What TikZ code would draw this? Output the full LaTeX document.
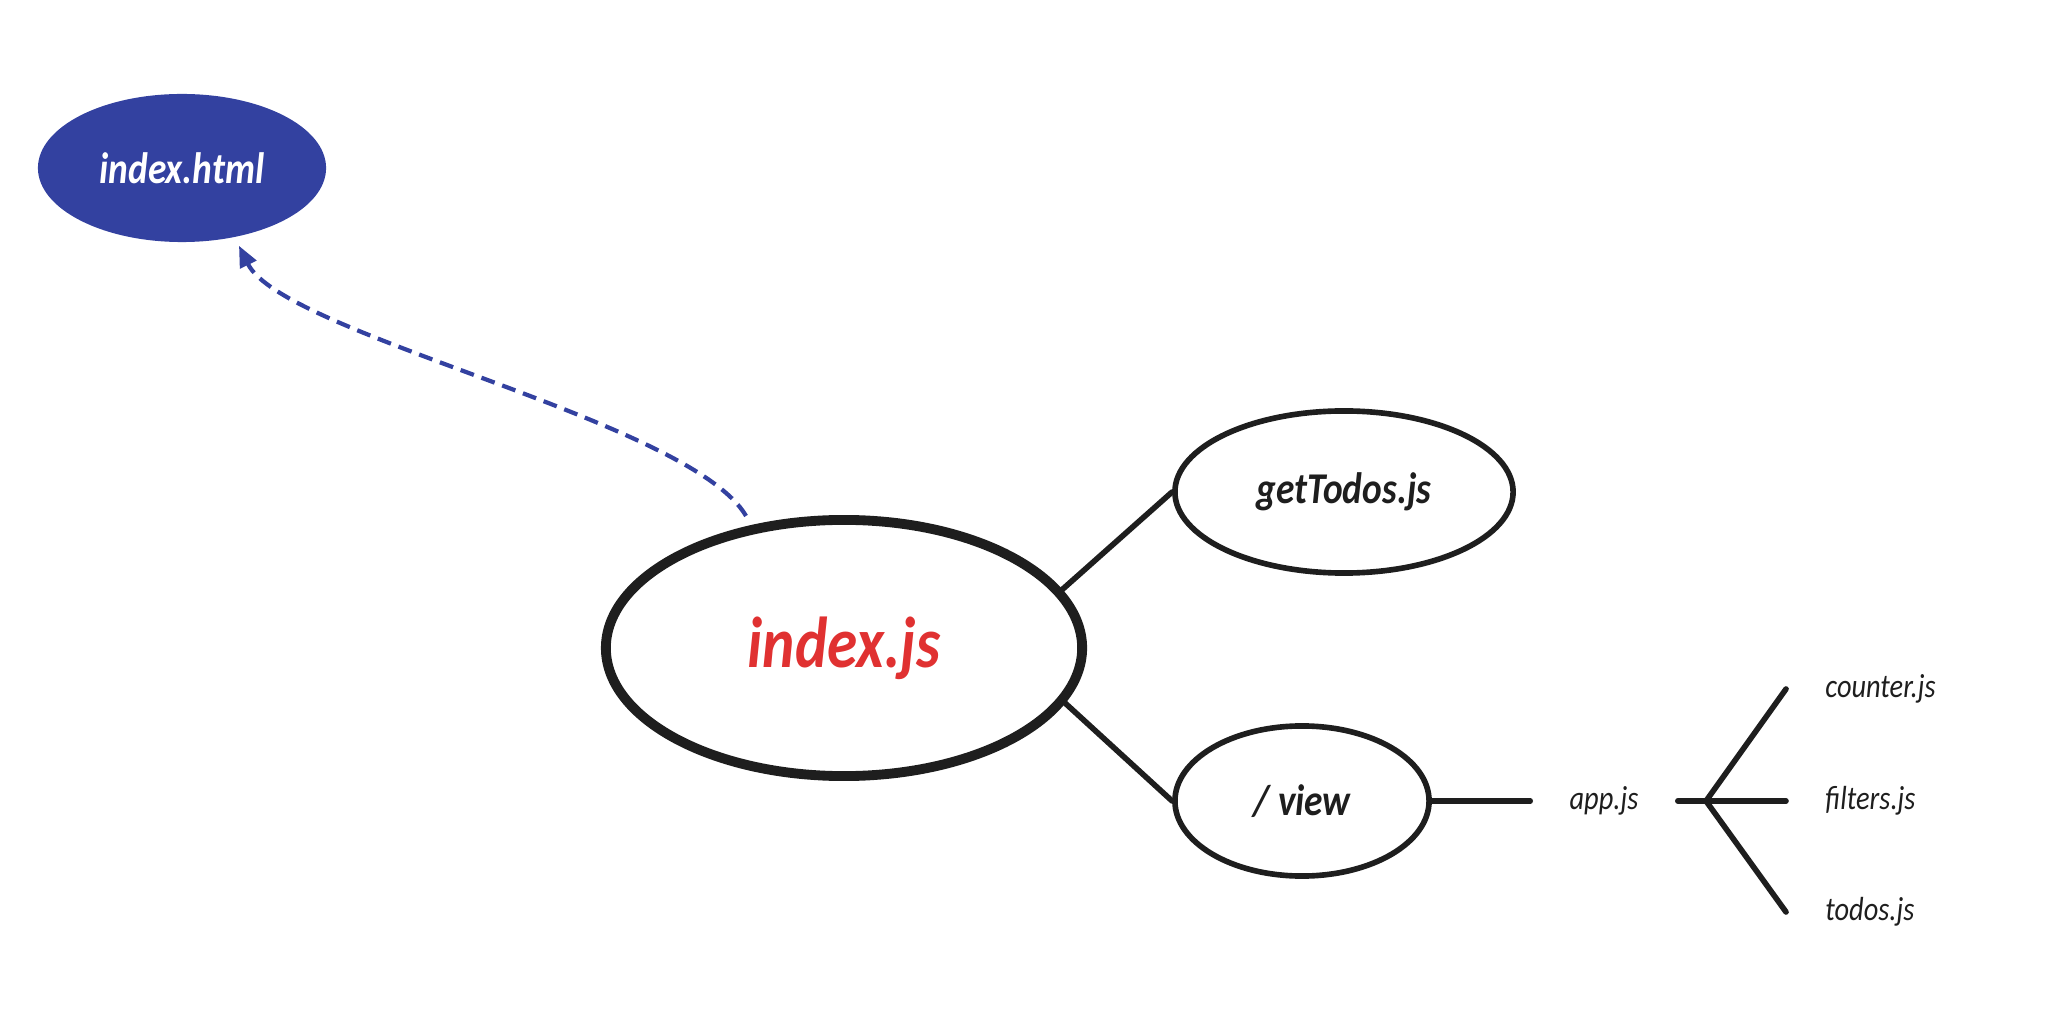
\documentclass[tikz,border=0pt]{standalone}
\usepackage{fontspec}
\setmainfont{Carlito}[FakeStretch=0.85]
\usepackage{xcolor}
\usepackage{tikz}
\usetikzlibrary{arrows.meta,positioning,shapes.geometric}

\definecolor{sketchblue}{HTML}{3341A0}
\definecolor{sketchred}{HTML}{E03131}
\definecolor{sketchink}{HTML}{1E1E1E}

\tikzset{
    file/.style={ellipse, draw=sketchink, line width=1.6pt, inner sep=0pt, text=sketchink,
        font=\bfseries\itshape\fontsize{12.5}{14}\selectfont},
    leaf/.style={inner xsep=11pt, inner ysep=2pt, text=sketchink,
        font=\itshape\fontsize{9.5}{11}\selectfont},
    branch/.style={draw=sketchink, line width=1.6pt, line cap=round}
}

\begin{document}
\begin{tikzpicture}[x=0.01cm, y=-0.01cm]
    % Fix the page size
    \useasboundingbox (0,0) rectangle (2070,1034);

    % Draw the file ellipses
    \node[file, fill=sketchblue, draw=none, text=white, minimum width=2.88cm, minimum height=1.48cm] (html) at (182,168) {index.html};
    \node[file, line width=2.8pt, text=sketchred, minimum width=4.76cm, minimum height=2.56cm,
        font=\bfseries\itshape\fontsize{20.5}{24}\selectfont] (ijs) at (844,648) {index.js};
    \node[file, minimum width=3.38cm, minimum height=1.62cm] (todosget) at (1344,492) {getTodos.js};
    \node[file, minimum width=2.54cm, minimum height=1.50cm] (view) at (1302,801) {/ view};

    % Label the files inside the view folder
    \node[leaf] (app) at (1604,801) {app.js};
    \coordinate (fork) at (1706,801);
    \node[leaf, anchor=west] (counter) at (1786,689) {counter.js};
    \node[leaf, anchor=west] (filters) at (1786,801) {filters.js};
    \node[leaf, anchor=west] (todos) at (1786,912) {todos.js};

    % Draw the dashed link from index.js up to index.html
    \draw[sketchblue, line width=1.2pt, dash pattern=on 4pt off 2.3pt, shorten <=3pt, shorten >=2pt,
        -{Triangle[length=6pt, width=5pt]}]
        (ijs.127) .. controls (690,420) and (283,335) .. (html.-53);

    % Draw the lines from index.js to its imports
    \draw[branch] (ijs.15) -- (todosget.west);
    \draw[branch] (ijs.-14) -- (view.west);

    % Draw the lines of the view folder
    \draw[branch] (view.east) -- (app.west);
    \draw[branch] (app.east) -- (filters.west);
    \draw[branch] (fork) -- (counter.west);
    \draw[branch] (fork) -- (todos.west);
\end{tikzpicture}
\end{document}
